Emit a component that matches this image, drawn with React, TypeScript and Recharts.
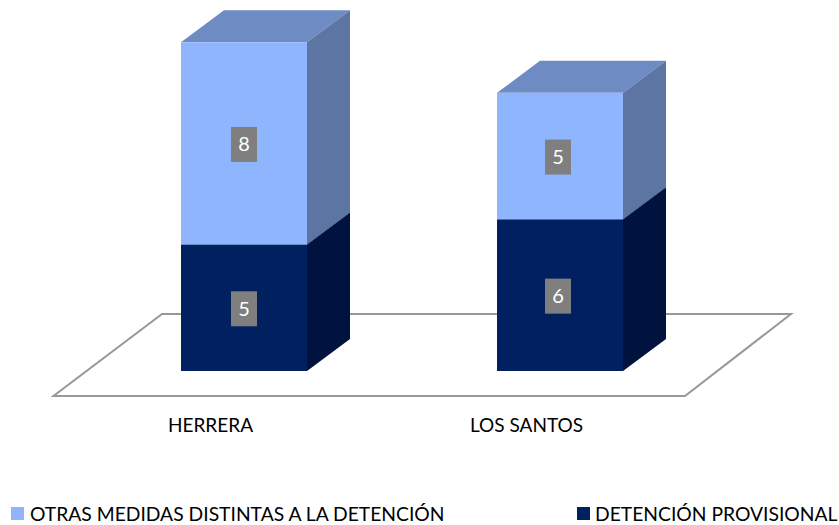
import { BarChart, Bar, XAxis, YAxis, Legend, LabelList } from "recharts";

const categories = ["HERRERA", "LOS SANTOS"];
const detencion = [5, 6];
const otras = [8, 5];

const FONT = "Lato, 'Open Sans', sans-serif";
const DEPTH_X = 43;
const DEPTH_Y = 32;

const data = categories.map((name, i) => ({
  name,
  detencion: detencion[i],
  otras: otras[i],
}));

const legendItems = [
  { label: "OTRAS MEDIDAS DISTINTAS A LA DETENCIÓN", color: "#8FB4FF", left: 11, textLeft: 30 },
  { label: "DETENCIÓN PROVISIONAL", color: "#002060", left: 577, textLeft: 595 },
];

// 3d box: front face, right side, top
const box = (front: string, top: string, side: string) => (props: any) => {
  const { x, y, width, height } = props;
  const r = x + width;
  const b = y + height;
  return (
    <g>
      <polygon
        points={`${x},${y} ${r},${y} ${r + DEPTH_X},${y - DEPTH_Y} ${x + DEPTH_X},${y - DEPTH_Y}`}
        fill={top}
      />
      <polygon
        points={`${r},${y} ${r + DEPTH_X},${y - DEPTH_Y} ${r + DEPTH_X},${b - DEPTH_Y} ${r},${b}`}
        fill={side}
      />
      <rect x={x} y={y} width={width} height={height} fill={front} />
    </g>
  );
};

const valueBadge = (props: any) => {
  const { x, y, width, height, value, index } = props;
  // second group's badges sit slightly left of the bar centre in the original
  const cx = x + width / 2 - (index === 1 ? 2 : 0);
  const cy = y + height / 2 + 1;
  return (
    <g>
      <rect x={cx - 13} y={cy - 17.5} width={26} height={35} fill="#7F7F7F" />
      <text
        x={cx}
        y={cy + 7}
        textAnchor="middle"
        fontSize={20}
        fontFamily={FONT}
        fill="#FFFFFF"
      >
        {value}
      </text>
    </g>
  );
};

const CategoryTick = (props: any) => {
  const { x, y, payload } = props;
  return (
    <text
      x={x - 33.5}
      y={y + 15}
      textAnchor="middle"
      fontSize={19}
      fontFamily={FONT}
      fill="#000000"
    >
      {payload.value}
    </text>
  );
};

const Floor = () => (
  <polygon
    points="53.5,396 685,396 791,314 162,314"
    fill="#FFFFFF"
    stroke="#989898"
    strokeWidth={2}
  />
);

const LegendRow = () => (
  <div style={{ position: "relative", width: 839, height: 30, fontFamily: FONT, fontSize: 19.3 }}>
    {legendItems.map((item) => (
      <div key={item.label}>
        <div
          style={{
            position: "absolute",
            left: item.left,
            top: 7,
            width: 13,
            height: 13,
            background: item.color,
          }}
        />
        <div
          style={{
            position: "absolute",
            left: item.textLeft,
            top: 2,
            lineHeight: "24px",
            whiteSpace: "nowrap",
            color: "#000000",
          }}
        >
          {item.label}
        </div>
      </div>
    ))}
  </div>
);

export default function App() {
  return (
    <div style={{ position: "absolute", left: 0, top: 0, width: 839, height: 525 }}>
      <BarChart
        width={839}
        height={525}
        data={data}
        margin={{ top: 17, right: 121, bottom: 64, left: 86 }}
      >
        <Floor />
        <XAxis
          dataKey="name"
          axisLine={false}
          tickLine={false}
          height={60}
          tick={<CategoryTick />}
          tickMargin={40}
          interval={0}
        />
        <YAxis hide domain={[0, 14]} />
        <Legend
          content={<LegendRow />}
          wrapperStyle={{ position: "absolute", left: 0, top: 500, width: 839 }}
        />
        <Bar
          dataKey="detencion"
          stackId="a"
          barSize={126}
          isAnimationActive={false}
          shape={box("#002060", "#001845", "#00133F")}
        >
          <LabelList dataKey="detencion" content={valueBadge} />
        </Bar>
        <Bar
          dataKey="otras"
          stackId="a"
          barSize={126}
          isAnimationActive={false}
          shape={box("#90B5FF", "#6E8BC4", "#5C75A3")}
        >
          <LabelList dataKey="otras" content={valueBadge} />
        </Bar>
      </BarChart>
    </div>
  );
}
